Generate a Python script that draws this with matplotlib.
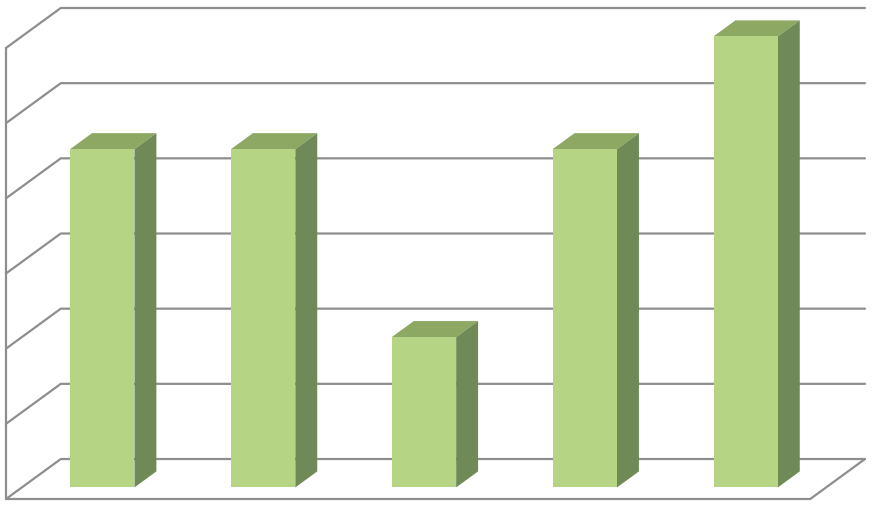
import matplotlib
matplotlib.use('Agg')
import matplotlib.pyplot as plt

# bar heights, in gridline steps
values = [4.5, 4.5, 2, 4.5, 6]
grid_levels = [0, 1, 2, 3, 4, 5, 6]

GRID = '#8e8e8e'
FRONT = '#b5d585'
TOP = '#8ca862'
SIDE = '#6f8a57'

# oblique projection of the depth axis, in data units of the 2d axes
DEPTH_X = 55 / 161.5
DEPTH_Y = 40 / 75.2
BAR_W = 0.4
BAR_D0 = 0.29
BAR_D1 = 0.69


def project(x, y, d):
    ''' Maps category x, value y and depth d (0 front, 1 back) to 2d data coords '''
    return x + d * DEPTH_X, y + d * DEPTH_Y


def face(ax, corners, color):
    ''' Fills one face of a box given its (x, y, d) corners '''
    pts = [project(*c) for c in corners]
    ax.fill([p[0] for p in pts], [p[1] for p in pts], color=color, lw=0, zorder=3)


fig = plt.figure(figsize=(8.74, 5.05), dpi=100)
ax = fig.add_axes([6 / 874, (505 - 499) / 505, (865 - 6) / 874, (499 - 8) / 505])
ax.set_xlim(-0.5, 4.5 + DEPTH_X)
ax.set_ylim(0, 6 + DEPTH_Y)
ax.axis('off')

left, right = -0.5, 4.5
line = dict(color=GRID, lw=1.6, zorder=1, clip_on=False, solid_capstyle='round')

for level in grid_levels:
    x0, y0 = project(left, level, 0)
    x1, y1 = project(left, level, 1)
    x2, y2 = project(right, level, 1)
    ax.plot([x0, x1, x2], [y0, y1, y2], **line)

# wall edge and floor outline
ax.plot(*zip(project(left, 0, 0), project(left, grid_levels[-1], 0)), **line)
ax.plot(*zip(project(left, 0, 0), project(right, 0, 0), project(right, 0, 1)), **line)

for i, v in enumerate(values):
    xa, xb = i - BAR_W / 2, i + BAR_W / 2
    fx, fy = project(i, 0, BAR_D0)
    ax.bar(fx, v, BAR_W, bottom=fy, color=FRONT, lw=0, zorder=4)
    face(ax, [(xa, v, BAR_D0), (xb, v, BAR_D0), (xb, v, BAR_D1), (xa, v, BAR_D1)], TOP)
    face(ax, [(xb, 0, BAR_D0), (xb, v, BAR_D0), (xb, v, BAR_D1), (xb, 0, BAR_D1)], SIDE)

fig.savefig('out.png', dpi=100)
